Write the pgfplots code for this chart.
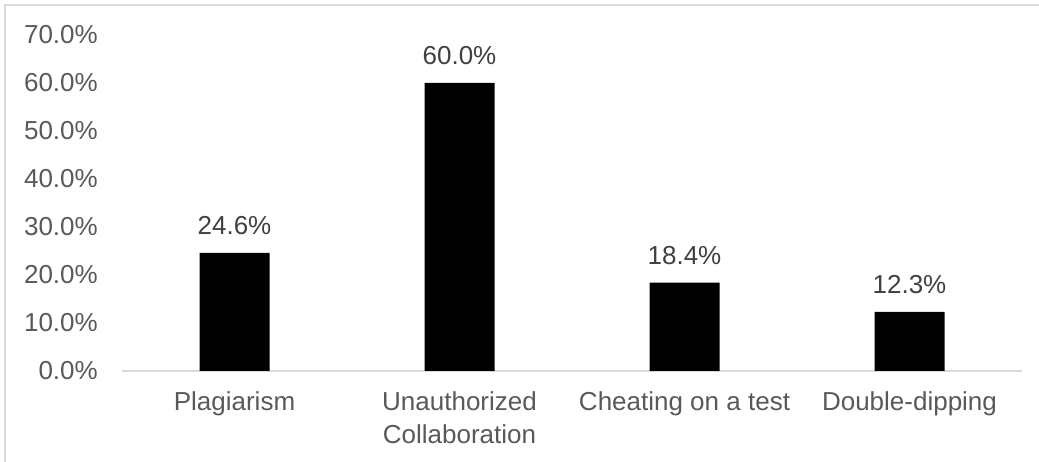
\documentclass[border=0pt]{standalone}
\usepackage{pgfplots}
\pgfplotsset{compat=1.18}
\usepackage{fontspec}
\setmainfont{Liberation Sans}

\definecolor{ticktext}{HTML}{595959}
\definecolor{valuetext}{HTML}{404040}
\definecolor{rulegray}{HTML}{D9D9D9}

\begin{document}
\begin{tikzpicture}[x=1pt,y=1pt]
\useasboundingbox (0,0) rectangle (1039,462);
% chart frame (left and top edges)
\draw[rulegray, line width=2pt] (5,0) -- (5,457);
\draw[rulegray, line width=2pt] (4,457) -- (1039,457);
\begin{axis}[
  at={(122pt,91pt)}, anchor=south west,
  scale only axis, width=900pt, height=336pt,
  ybar, bar width=70pt, bar shift=0pt,
  xmin=-0.5, xmax=3.5, ymin=0, ymax=70,
  xtick={0,1,2,3},
  xticklabels={Plagiarism, {Unauthorized\\Collaboration}, Cheating on a test, Double-dipping},
  ytick={0,10,...,70},
  yticklabel={\pgfmathprintnumber[fixed,fixed zerofill,precision=1]{\tick}\%},
  /pgf/number format/assume math mode=true,
  axis x line*=bottom, axis y line*=left,
  x axis line style={rulegray, line width=1.2pt, -},
  y axis line style={draw=none},
  major tick length=0pt,
  tick label style={font=\fontsize{26}{33}\selectfont, text=ticktext},
  xticklabel style={align=center, anchor=north, yshift=-20pt, inner sep=0pt},
  yticklabel style={anchor=east, xshift=-24pt, inner sep=0pt},
  nodes near coords={\pgfmathprintnumber[fixed,fixed zerofill,precision=1]{\pgfplotspointmeta}\%},
  nodes near coords style={font=\fontsize{26}{33}\selectfont, text=valuetext, anchor=base, yshift=18pt, inner sep=0pt},
  clip=false,
]
\addplot[fill=black, draw=none] coordinates {(0,24.6) (1,60.0) (2,18.4) (3,12.3)};
\end{axis}
\end{tikzpicture}
\end{document}
